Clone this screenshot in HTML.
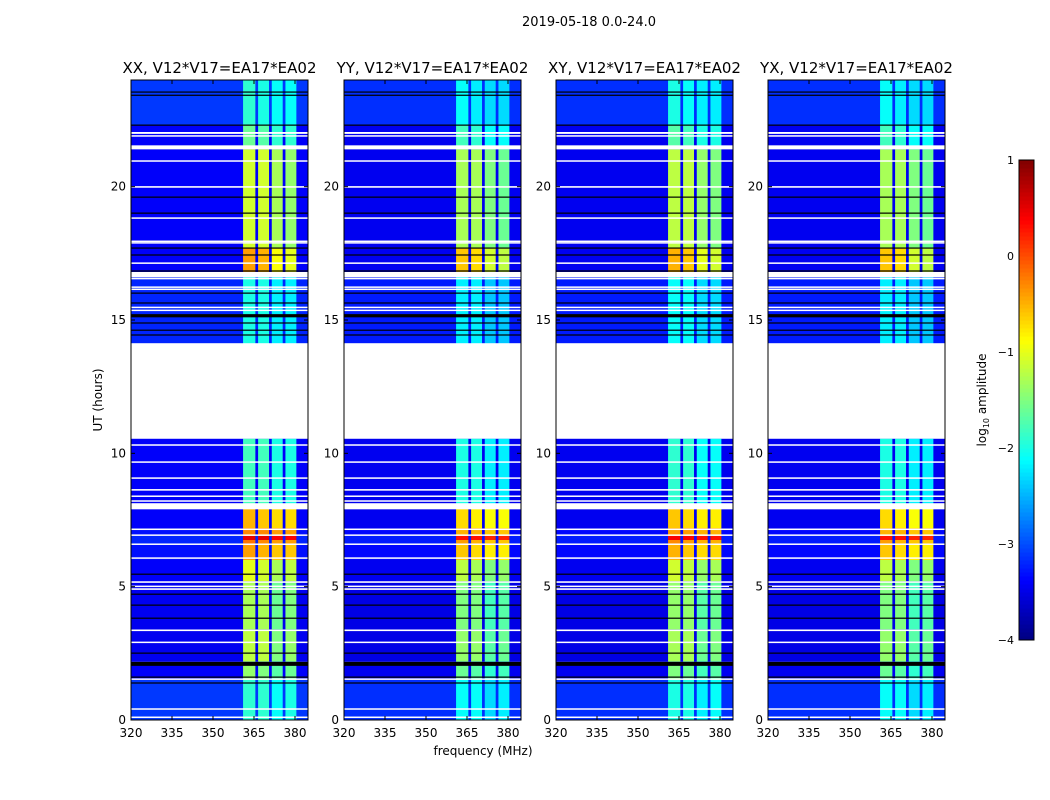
<!DOCTYPE html>
<html><head><meta charset="utf-8"><style>
body{margin:0;background:#fff;}
svg{display:block;font-family:"DejaVu Sans","Liberation Sans",sans-serif;}
</style></head><body>
<svg id="fig" width="1050" height="800" viewBox="0 0 1050 800">
<text x="589" y="26" font-size="13" text-anchor="middle">2019-05-18 0.0-24.0</text>
<text x="483" y="755" font-size="12" text-anchor="middle">frequency (MHz)</text>
<text transform="translate(102,400) rotate(-90)" font-size="12" text-anchor="middle">UT (hours)</text>
<g id="panels"></g>
<g id="cbar"></g>
<text transform="translate(986,400) rotate(-90)" font-size="12" text-anchor="middle">log<tspan font-size="8" dy="3">10</tspan><tspan dy="-3"> amplitude</tspan></text>
</svg>
<script>
const panelTitles=["XX, V12*V17=EA17*EA02","YY, V12*V17=EA17*EA02","XY, V12*V17=EA17*EA02","YX, V12*V17=EA17*EA02"];
const panelLeft=[131,344,556,768];
const panelBandOffset=[0,-0.2,-0.1,-0.2];
const xTicks=[320,335,350,365,380];
const yTicks=[0,5,10,15,20];
const cbarTicks=[1,0,-1,-2,-3,-4];
const bandCols=[[361,365.5],[366.5,370.5],[371.5,375.5],[376.5,380.5]];
// segments: [startHour,endHour,backgroundLevel,band1..band4]
const segStart=[0,1.5,2.2,3.4,5.2,6.0,6.6,6.75,6.9,7.2,8.0,14.1,16.8,17.7,21.4,22.3];
const segEnd=[1.5,2.2,3.4,5.2,6.0,6.6,6.75,6.9,7.2,8.0,10.55,16.8,17.7,21.4,22.3,24];
const segBg=[-3.1,-3.4,-3.45,-3.45,-3.4,-3.3,-3.2,-3.2,-3.3,-3.4,-3.4,-3.2,-3.4,-3.4,-3.4,-3.1];
const segBand1=[-1.9,-1.4,-1.2,-1.3,-1.0,-0.4,-0.2,0.5,-0.3,-0.5,-1.8,-2.0,-0.4,-1.1,-1.6,-1.9];
const segBand2=[-1.9,-1.5,-1.2,-1.3,-1.1,-0.5,-0.3,0.5,-0.3,-0.6,-1.8,-2.0,-0.5,-1.1,-1.7,-2.0];
const segBand3=[-2.1,-1.7,-1.5,-1.6,-1.3,-0.6,-0.4,0.4,-0.4,-0.7,-2.0,-2.2,-0.9,-1.3,-1.9,-2.1];
const segBand4=[-2.0,-1.6,-1.4,-1.5,-1.2,-0.6,-0.4,0.4,-0.4,-0.7,-2.0,-2.2,-1.0,-1.4,-1.9,-2.1];
const whiteStart=[21.98,21.88,21.4,20.94,19.96,18.8,17.94,17.88,17.12,16.6,16.55,16.22,16.14,15.47,15.36,10.55,10.3,9.66,9.06,8.6,8.38,8.2,7.9,7.14,6.92,6.58,6.05,5.16,5.0,4.88,3.35,2.9,2.08,1.52,0.4,0.1];
const whiteEnd=[22.05,21.93,21.55,20.99,20.02,18.85,17.98,17.92,17.16,16.8,16.58,16.26,16.18,15.5,15.39,14.13,10.34,9.7,9.1,8.66,8.42,8.24,8.13,7.18,6.96,6.62,6.1,5.2,5.04,4.94,3.39,2.94,2.12,1.56,0.44,0.13];
const blackStart=[23.53,23.41,22.29,19.59,18.99,17.68,17.42,16.82,15.99,15.62,15.1,14.87,14.6,14.42,5.45,4.7,4.29,3.8,2.49,2.03,1.59,1.37];
const blackEnd=[23.57,23.45,22.33,19.63,19.03,17.72,17.46,16.86,16.03,15.66,15.22,14.91,14.64,14.46,5.49,4.74,4.33,3.84,2.53,2.18,1.63,1.41];

const NS="http://www.w3.org/2000/svg";
const PW=177, PT=80, PB=720;
const fMin=320, fMax=320+177/(41/15);
function yS(h){return PB-(h/24)*(PB-PT);}
function xS(f,left){return left+(f-fMin)/(fMax-fMin)*PW;}
function jet(v){let t=(v+4)/5;t=Math.max(0,Math.min(1,t));
 const c=x=>Math.round(255*Math.max(0,Math.min(1,x)));
 return `rgb(${c(1.5-Math.abs(4*t-3))},${c(1.5-Math.abs(4*t-2))},${c(1.5-Math.abs(4*t-1))})`;}
function mk(tag,attrs,parent){const e=document.createElementNS(NS,tag);for(const k in attrs)e.setAttribute(k,attrs[k]);parent.appendChild(e);return e;}
const panels=document.getElementById('panels');
panelLeft.forEach((L,p)=>{
 const g=mk('g',{},panels);
 
 
 const hm=mk('g',{},g);
 
 
 const bands=[segBand1,segBand2,segBand3,segBand4];
 segStart.forEach((s,i)=>{
  const y0=yS(segEnd[i]),y1=yS(s);
  const r=mk('rect',{x:L,y:y0,width:PW,height:y1-y0,fill:jet(segBg[i]-(p>0?0.05:0))},hm);
  
  
  bandCols.forEach((bc,b)=>{
   const br=mk('rect',{x:xS(bc[0],L),y:y0,width:xS(bc[1],L)-xS(bc[0],L),height:y1-y0,fill:jet(bands[b][i]+panelBandOffset[p])},hm);
   
   
  });
 });
 whiteStart.forEach((s,i)=>{
  const w=mk('rect',{x:L,y:yS(whiteEnd[i]),width:PW,height:Math.max(1.5,yS(s)-yS(whiteEnd[i])),fill:'#fff'},hm);
  
  
 });
 blackStart.forEach((s,i)=>{
  const k=mk('rect',{x:L,y:yS(blackEnd[i]),width:PW,height:Math.max(1.2,yS(s)-yS(blackEnd[i])),fill:'#000'},hm);
  
  
 });
 const fr=mk('rect',{x:L,y:PT,width:PW,height:PB-PT,fill:'none',stroke:'#000','stroke-width':1},g);
 
 
 const t=mk('text',{x:L+PW/2,y:73,'font-size':15,'text-anchor':'middle'},g);
 t.textContent=panelTitles[p];
 
 
 xTicks.forEach(v=>{const x=xS(v,L);
  mk('line',{x1:x,x2:x,y1:PB,y2:PB-4,stroke:'#000'},g);
  mk('line',{x1:x,x2:x,y1:PT,y2:PT+4,stroke:'#000'},g);
  const tl=mk('text',{x:x,y:PB+17,'font-size':12,'text-anchor':'middle'},g);tl.textContent=v;
  
  });
 yTicks.forEach(v=>{const y=yS(v);
  mk('line',{x1:L,x2:L+4,y1:y,y2:y,stroke:'#000'},g);
  mk('line',{x1:L+PW,x2:L+PW-4,y1:y,y2:y,stroke:'#000'},g);
  const tl=mk('text',{x:L-5,y:y+4,'font-size':12,'text-anchor':'end'},g);tl.textContent=v;
  
  });
});
const cb=document.getElementById('cbar');


const CX=1019,CW=15,CT=160,CB=640;
for(let i=0;i<120;i++){const v=-4+5*(i+0.5)/120;const y=CB-(i+1)*(CB-CT)/120;
 mk('rect',{x:CX,y:y,width:CW,height:(CB-CT)/120+0.5,fill:jet(v)},cb);}
mk('rect',{x:CX,y:CT,width:CW,height:CB-CT,fill:'none',stroke:'#000'},cb);
cbarTicks.forEach(v=>{const y=CB-(v+4)/5*(CB-CT);
 const tl=mk('text',{x:CX-5,y:y+4,'font-size':11,'text-anchor':'end'},cb);tl.textContent=(v<0?'\u2212'+(-v):v);
 
 });
</script>
</body></html>
